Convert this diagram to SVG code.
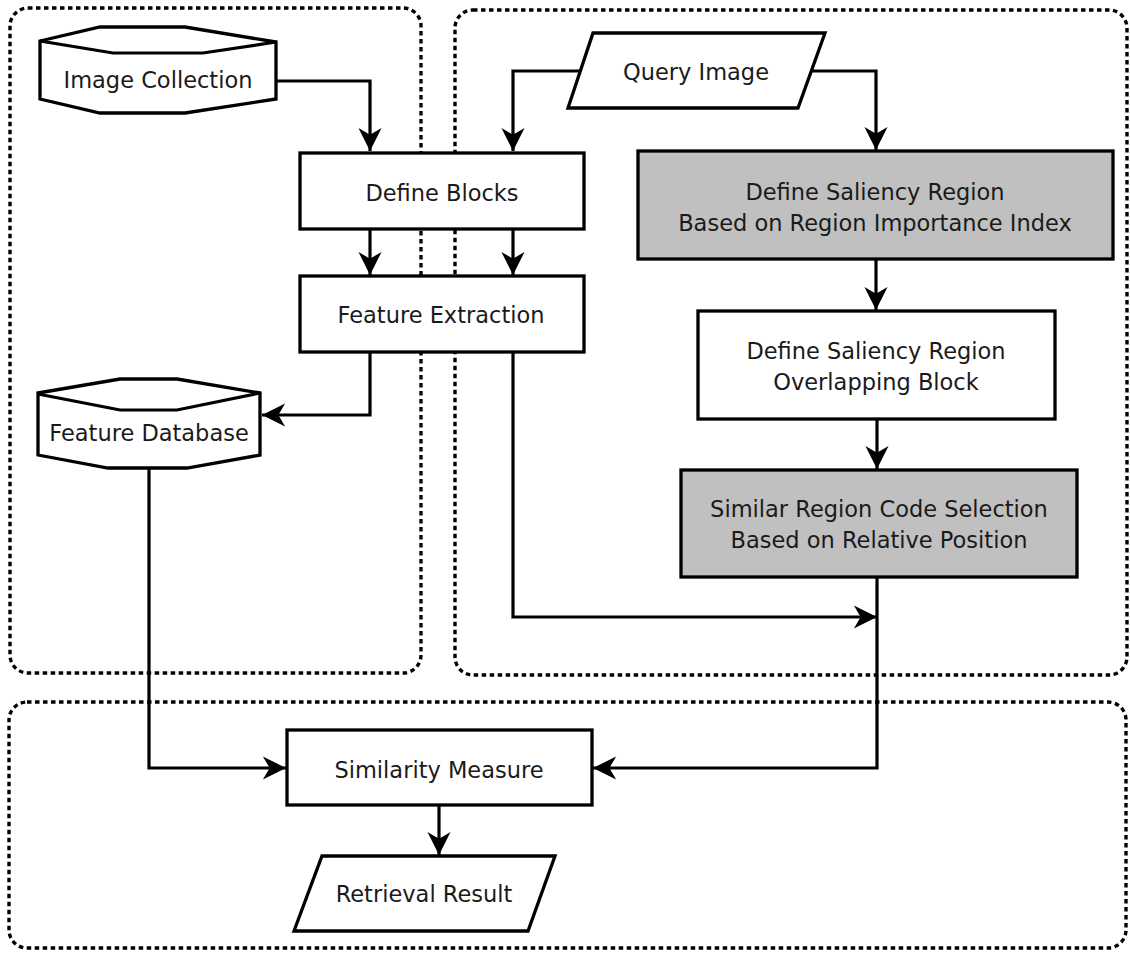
<svg xmlns="http://www.w3.org/2000/svg" width="1130" height="953" viewBox="0 0 1130 953">
<style>
.bg{fill:#ffffff}
.container{fill:none;stroke:#000;stroke-width:3.4;stroke-dasharray:4.5 3.5}
.box{fill:#ffffff;stroke:#000;stroke-width:3.3}
.gray{fill:#c0c0c0;stroke:#000;stroke-width:3.3}
.conn{fill:none;stroke:#000;stroke-width:3.2}
.lbl{font-family:"DejaVu Sans","Liberation Sans",sans-serif;font-size:22.5px;fill:#1a1a1a;text-anchor:middle}
</style>
<defs>
<marker id="arrow" markerUnits="userSpaceOnUse" markerWidth="26" markerHeight="26" viewBox="-25 -13 27 26" refX="0" refY="0" orient="auto">
<path d="M0,0 L-24,-12 L-17,0 L-24,12 Z" fill="#000"/>
</marker>
</defs>
<rect class="bg" x="0" y="0" width="1130" height="953"/>
<g id="containers">
<rect class="container" x="10" y="8" width="411" height="665" rx="18" ry="18"/>
<rect class="container" x="455" y="10" width="672" height="665" rx="18" ry="18"/>
<rect class="container" x="9" y="702" width="1117" height="246" rx="18" ry="18"/>
</g>
<g id="connectors">
<path class="conn" d="M276,81 H370 V151" marker-end="url(#arrow)"/>
<path class="conn" d="M582,71 H513 V151" marker-end="url(#arrow)"/>
<path class="conn" d="M812,71 H876 V150" marker-end="url(#arrow)"/>
<path class="conn" d="M370,229 V275" marker-end="url(#arrow)"/>
<path class="conn" d="M513,229 V275" marker-end="url(#arrow)"/>
<path class="conn" d="M876,259 V310" marker-end="url(#arrow)"/>
<path class="conn" d="M877,419 V469" marker-end="url(#arrow)"/>
<path class="conn" d="M370,352 V415 H262" marker-end="url(#arrow)"/>
<path class="conn" d="M513,352 V617 H877" marker-end="url(#arrow)"/>
<path class="conn" d="M149,468 V768 H286" marker-end="url(#arrow)"/>
<path class="conn" d="M877,577 V768 H593" marker-end="url(#arrow)"/>
<path class="conn" d="M439,805 V855" marker-end="url(#arrow)"/>
</g>
<g id="image-collection">
<path class="box" d="M40,41 L100,27 L185,27 L276,42 L276,99 L185,113 L100,113 L40,99 Z"/>
<path class="conn" d="M40,41 L113,53 L203,53 L276,42"/>
<text class="lbl" x="158" y="88">Image Collection</text>
</g>
<g id="query-image">
<polygon class="box" points="593,33 825,33 798,108 568,108"/>
<text class="lbl" x="696" y="80">Query Image</text>
</g>
<g id="define-blocks">
<rect class="box" x="300" y="153" width="284" height="76"/>
<text class="lbl" x="442" y="201">Define Blocks</text>
</g>
<g id="feature-extraction">
<rect class="box" x="300" y="276" width="284" height="76"/>
<text class="lbl" x="441" y="323">Feature Extraction</text>
</g>
<g id="feature-database">
<path class="box" d="M38,393 L120,379 L177,379 L260,393 L260,455 L187,468 L108,468 L38,455 Z"/>
<path class="conn" d="M38,394 L120,410 L177,410 L260,393"/>
<text class="lbl" x="149" y="441">Feature Database</text>
</g>
<g id="saliency-importance">
<rect class="gray" x="638" y="151" width="475" height="108"/>
<text class="lbl" x="875" y="200">Define Saliency Region</text>
<text class="lbl" x="875" y="231">Based on Region Importance Index</text>
</g>
<g id="saliency-overlap">
<rect class="box" x="698" y="311" width="357" height="108"/>
<text class="lbl" x="876" y="359">Define Saliency Region</text>
<text class="lbl" x="876" y="390">Overlapping Block</text>
</g>
<g id="similar-region">
<rect class="gray" x="681" y="470" width="396" height="107"/>
<text class="lbl" x="879" y="517">Similar Region Code Selection</text>
<text class="lbl" x="879" y="548">Based on Relative Position</text>
</g>
<g id="similarity-measure">
<rect class="box" x="287" y="730" width="305" height="75"/>
<text class="lbl" x="439" y="778">Similarity Measure</text>
</g>
<g id="retrieval-result">
<polygon class="box" points="322,856 555,856 528,931 294,931"/>
<text class="lbl" x="424" y="902">Retrieval Result</text>
</g>
</svg>
